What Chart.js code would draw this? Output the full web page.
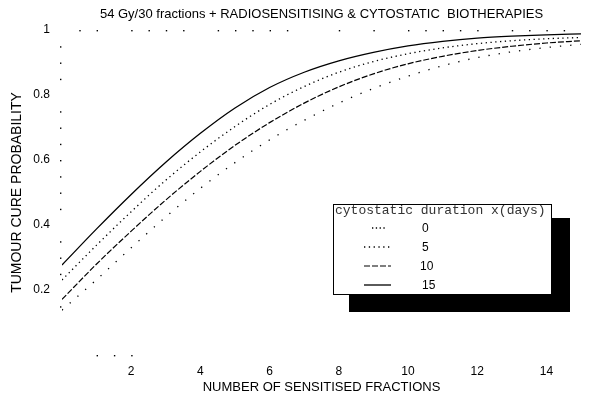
<!DOCTYPE html>
<html>
<head>
<meta charset="utf-8">
<script src="https://cdn.jsdelivr.net/npm/chart.js@4.4.0/dist/chart.umd.min.js"></script>
<style>
  html, body { margin: 0; padding: 0; background: #fff; }
  #wrap { width: 590px; height: 397px; }
</style>
</head>
<body>
<div id="wrap"><canvas id="chart"></canvas></div>
<script>
// datos
const fractions = [0, 1, 2, 3, 4, 5, 6, 7, 8, 9, 10, 11, 12, 13, 14, 15];
const tcp15 = [0.277, 0.388, 0.494, 0.593, 0.682, 0.760, 0.823, 0.870, 0.905, 0.931, 0.951, 0.965, 0.975, 0.981, 0.985, 0.988];
const tcp5  = [0.231, 0.338, 0.441, 0.538, 0.625, 0.703, 0.771, 0.826, 0.870, 0.903, 0.927, 0.945, 0.958, 0.967, 0.973, 0.977];
const tcp10 = [0.171, 0.280, 0.381, 0.477, 0.565, 0.645, 0.715, 0.775, 0.825, 0.865, 0.896, 0.919, 0.937, 0.950, 0.960, 0.967];
const tcp0  = [0.138, 0.232, 0.330, 0.425, 0.513, 0.592, 0.662, 0.722, 0.775, 0.820, 0.858, 0.890, 0.915, 0.933, 0.946, 0.956];
const durations = ['0', '5', '10', '15'];
const xTickLabels = [2, 4, 6, 8, 10, 12, 14];
const yTickLabels = [0.2, 0.4, 0.6, 0.8, 1];
// puntos del eje (restos del escaneo)
const leftDots = [0.15, 0.25, 0.3, 0.35, 0.45, 0.5, 0.55, 0.6, 0.65, 0.7, 0.75, 0.85, 0.9, 0.95];
const topDots = [0.5, 1, 2, 2.5, 3, 3.5, 4.5, 5, 5.5, 6, 6.5, 8, 9, 10, 10.5, 11, 11.5, 12, 13, 13.5, 14, 14.5];
const bottomDots = [1, 1.5, 2];

const titulo = '54 Gy/30 fractions + RADIOSENSITISING & CYTOSTATIC  BIOTHERAPIES';

function serie(vals) {
  return fractions.map((f, i) => ({ x: f, y: vals[i] }));
}

// dibuja titulo, puntos de los ejes y la leyenda con sombra
const decor = {
  id: 'decor',
  afterDraw(chart) {
    const ctx = chart.ctx;
    const xs = chart.scales.x, ys = chart.scales.y;
    const area = chart.chartArea;
    const centro = (area.left + area.right) / 2;
    ctx.save();
    ctx.fillStyle = '#000';
    leftDots.forEach(v => ctx.fillRect(xs.getPixelForValue(0) - 2, ys.getPixelForValue(v), 1.4, 1.4));
    topDots.forEach(v => ctx.fillRect(xs.getPixelForValue(v), ys.getPixelForValue(1), 1.4, 1.4));
    bottomDots.forEach(v => ctx.fillRect(xs.getPixelForValue(v), ys.getPixelForValue(0), 1.4, 1.4));

    ctx.font = '13px "Liberation Sans", Arial, sans-serif';
    ctx.textAlign = 'center';
    ctx.textBaseline = 'middle';
    ctx.fillText(titulo, centro, 14);
    ctx.fillText('NUMBER OF SENSITISED FRACTIONS', centro, 387);

    // leyenda
    ctx.fillRect(349, 218, 221, 94);
    ctx.fillStyle = '#fff';
    ctx.fillRect(333, 204, 219, 91);
    ctx.strokeStyle = '#000';
    ctx.lineWidth = 1;
    ctx.strokeRect(333.5, 204.5, 218, 90);
    ctx.fillStyle = '#333';
    ctx.textAlign = 'left';
    ctx.font = '13px "Liberation Mono", monospace';
    ctx.fillText('cytostatic duration x(days)', 335, 211);
    ctx.fillStyle = '#000';
    ctx.font = '12px "Liberation Sans", Arial, sans-serif';
    const orden = [3, 1, 2, 0];
    orden.forEach((di, i) => {
      const ds = chart.data.datasets[di];
      const yy = 228 + i * 19;
      ctx.beginPath();
      ctx.setLineDash(i === 0 ? [1.3, 2.5] : (ds.borderDash || []));
      ctx.lineWidth = ds.borderWidth;
      ctx.moveTo(i === 0 ? 372 : 364, yy);
      ctx.lineTo(i === 0 ? 386 : 391, yy);
      ctx.stroke();
      ctx.setLineDash([]);
      ctx.fillText(ds.label, i === 2 ? 420 : 422, yy + 1);
    });
    ctx.restore();
  }
};

const linea = { cubicInterpolationMode: 'monotone', pointRadius: 0, borderColor: '#000', fill: false };

new Chart(document.getElementById('chart'), {
  type: 'line',
  data: {
    datasets: [
      Object.assign({ label: durations[3], data: serie(tcp15), borderWidth: 1.3 }, linea),
      Object.assign({ label: durations[1], data: serie(tcp5), borderWidth: 1.3, borderDash: [1.3, 3.5] }, linea),
      Object.assign({ label: durations[2], data: serie(tcp10), borderWidth: 1.2, borderDash: [6, 2] }, linea),
      Object.assign({ label: durations[0], data: serie(tcp0), borderWidth: 1.3, borderDash: [1.3, 9] }, linea)
    ]
  },
  options: {
    responsive: true,
    maintainAspectRatio: false,
    animation: false,
    layout: { padding: { top: 30, right: 2, left: 0, bottom: 0 } },
    plugins: { legend: { display: false }, title: { display: false }, tooltip: { enabled: false } },
    scales: {
      x: {
        type: 'linear', min: 0, max: 15,
        grid: { display: false, drawTicks: false },
        border: { display: false },
        afterFit: s => { s.height = 42; },
        ticks: {
          stepSize: 1, padding: 9, maxRotation: 0, autoSkip: false,
          color: '#000', font: { family: '"Liberation Sans", Arial', size: 12 },
          callback: v => xTickLabels.includes(v) ? String(v) : ''
        }
      },
      y: {
        min: 0, max: 1,
        grid: { display: false, drawTicks: false },
        border: { display: false },
        afterFit: s => { s.width = 62; },
        title: {
          display: true, text: 'TUMOUR CURE PROBABILITY', color: '#000',
          font: { family: '"Liberation Sans", Arial', size: 14 }, padding: { top: 9, bottom: 0 }
        },
        ticks: {
          stepSize: 0.2, padding: 12, color: '#000',
          font: { family: '"Liberation Sans", Arial', size: 12 },
          callback: v => {
            const r = Math.round(v * 10) / 10;
            return yTickLabels.includes(r) ? String(r) : '';
          }
        }
      }
    }
  },
  plugins: [decor]
});
</script>
</body>
</html>
